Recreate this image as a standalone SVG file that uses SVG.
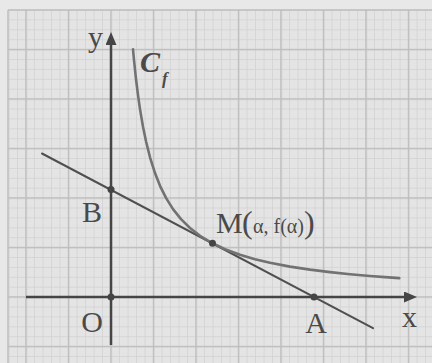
<svg xmlns="http://www.w3.org/2000/svg" width="432" height="363" viewBox="0 0 432 363">
<style>
.axis{stroke:#454545;stroke-width:2.5;fill:none}
.tan{stroke:#4f4f4f;stroke-width:2;fill:none;stroke-linecap:round}
.curve{stroke:#727272;stroke-width:2.6;fill:none;stroke-linejoin:round;stroke-linecap:round}
.lbl{font-family:"Liberation Serif","Times New Roman",serif;fill:#4a4a4a}
.dot{fill:#444}
.border{stroke:#bdbdbd;stroke-width:1.4}
</style>
<defs>
<pattern id="minor" patternUnits="userSpaceOnUse" x="25.6" y="296.6" width="8.5" height="9.9">
<rect width="8.5" height="9.9" fill="#e4e4e4"/>
<rect width="0.8" height="9.9" fill="#d3d3d3"/>
<rect width="8.5" height="0.8" fill="#d3d3d3"/>
</pattern>
<pattern id="major" patternUnits="userSpaceOnUse" x="25.3" y="296.3" width="42.5" height="49.5">
<rect width="1.4" height="49.5" fill="#bdbdbd"/>
<rect width="42.5" height="1.4" fill="#bdbdbd"/>
</pattern>
<marker id="arr" markerUnits="userSpaceOnUse" markerWidth="14" markerHeight="12" refX="2" refY="5.5" orient="auto">
<path d="M0,0 L13,5.5 L0,11 z" fill="#454545"/>
</marker>
</defs>
<rect width="432" height="363" fill="#e8e8e8"/>
<g id="grid">
<rect x="8" y="10" width="424" height="353" fill="url(#minor)"/>
<rect x="8" y="10" width="424" height="353" fill="url(#major)"/>
<line class="border" x1="8" y1="10" x2="432" y2="10"/>
<line class="border" x1="8" y1="10" x2="8" y2="363"/>
</g>
<g id="connectors">
<line id="x-axis" class="axis" x1="26" y1="297" x2="406" y2="297" marker-end="url(#arr)"/>
<line id="y-axis" class="axis" x1="111" y1="345" x2="111" y2="43" marker-end="url(#arr)"/>
<line id="tangent" class="tan" x1="42" y1="153.5" x2="373" y2="328.2"/>
<polyline id="curve" class="curve" points="133,49.3 134,60 136,79 138,95.2 140,109.1 143,126.7 146,141.3 150,157.3 155,173.1 160,185.8 166,197.9 173,209.1 181,219.1 190,228 200,235.8 212.5,243.3 225,249.2 240,254.8 255,259.2 270,262.7 290,266.6 310,269.6 330,272.1 350,274.2 370,276 385,277.1 399.3,278.1"/>
</g>
<g id="point-B"><circle class="dot" cx="111" cy="189.6" r="3.5"/><text class="lbl" x="92" y="222" font-size="30" text-anchor="middle">B</text></g>
<g id="point-O"><circle class="dot" cx="111" cy="297" r="3.5"/><text class="lbl" x="92" y="332" font-size="30" text-anchor="middle">O</text></g>
<g id="point-A"><circle class="dot" cx="314" cy="297" r="3.5"/><text class="lbl" x="316" y="333" font-size="30" text-anchor="middle">A</text></g>
<g id="point-M"><circle class="dot" cx="212.5" cy="243.3" r="3.5"/>
<text class="lbl" y="233.3"><tspan x="216" font-size="30">M</tspan><tspan x="242" font-size="32">(</tspan><tspan x="253" font-size="20">α, f(α)</tspan><tspan x="304" font-size="32">)</tspan></text>
</g>
<g id="labels">
<text class="lbl" x="95.5" y="46.5" font-size="30" text-anchor="middle">y</text>
<text class="lbl" x="409.5" y="326.5" font-size="30" text-anchor="middle">x</text>
<text class="lbl" x="140" y="71.7" font-size="30" font-style="italic" font-weight="bold">C</text>
<text class="lbl" x="162" y="84" font-size="17" font-style="italic" font-weight="bold">f</text>
</g>
</svg>
